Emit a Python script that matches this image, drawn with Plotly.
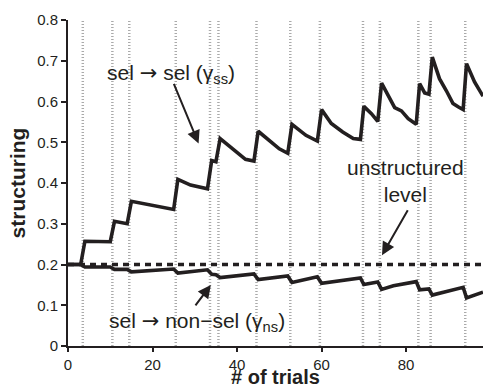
import plotly.graph_objects as go

# gamma_ss (sel -> sel) polyline vertices
gss_trial = [0, 3, 4, 10, 11, 14, 15, 25, 26, 29, 33, 34, 35, 36, 42, 44, 45, 47.4, 50, 52,
             53, 56.3, 59, 60, 62.3, 65, 67.5, 69.2, 70, 71.8, 73.3, 74.2, 75.7, 77.3, 78.9,
             80.5, 82.4, 83.2, 84.4, 85.4, 86.2, 87.9, 89.5, 91.1, 92.3, 93.5, 94.3, 96.2, 98.2]
gss_value = [0.2, 0.2, 0.257, 0.256, 0.306, 0.300, 0.355, 0.335, 0.409, 0.395, 0.386, 0.455,
             0.452, 0.509, 0.458, 0.454, 0.527, 0.507, 0.484, 0.473, 0.544, 0.517, 0.503, 0.58,
             0.546, 0.525, 0.509, 0.507, 0.588, 0.570, 0.551, 0.645, 0.615, 0.585, 0.577, 0.558,
             0.544, 0.644, 0.621, 0.618, 0.709, 0.656, 0.627, 0.595, 0.587, 0.580, 0.693, 0.648,
             0.613]

# gamma_ns (sel -> non-sel) polyline vertices
gns_trial = [0, 3, 4, 10, 11, 14, 15, 25, 26, 33, 34, 35, 36, 44, 45, 52, 53, 59, 60, 69.2,
             70, 73.3, 74.2, 77, 82.4, 83.2, 85.4, 86.2, 93.5, 94.3, 98.2]
gns_value = [0.2, 0.2, 0.194, 0.194, 0.188, 0.188, 0.182, 0.189, 0.179, 0.187, 0.176, 0.175,
             0.168, 0.177, 0.163, 0.172, 0.156, 0.170, 0.154, 0.167, 0.151, 0.157, 0.139,
             0.148, 0.158, 0.138, 0.140, 0.125, 0.144, 0.118, 0.132]

# trials marked with vertical dotted lines
event_trials = [3.5, 10.5, 14.5, 25.5, 33.6, 35.6, 44.6, 52.6, 59.6, 69.8, 73.8, 82.9, 85.8, 94.0]

unstructured_level = 0.2
x_range = [0, 98.2]
y_range = [0, 0.8]
x_ticks = [0, 20, 40, 60, 80]
y_ticks = [0, 0.1, 0.2, 0.3, 0.4, 0.5, 0.6, 0.7, 0.8]
y_ticklabels = ["0", "0.1", "0.2", "0.3", "0.4", "0.5", "0.6", "0.7", "0.8"]

ink = "#231f20"
font = "Liberation Sans, Arial, Helvetica, sans-serif"
arrow_char = '<span style="font-family:DejaVu Sans">\u2192</span>'

vx, vy = [], []
for t in event_trials:
    vx += [t, t, None]
    vy += [y_range[0], y_range[1], None]

fig = go.Figure()
fig.add_trace(go.Scatter(x=vx, y=vy, mode="lines",
                         line=dict(color="#aaaaaa", width=2.5, dash="1px,2px"),
                         hoverinfo="skip", showlegend=False))
fig.add_trace(go.Scatter(x=x_range, y=[unstructured_level] * 2, mode="lines",
                         line=dict(color=ink, width=3.5, dash="6px,5px"), showlegend=False))
fig.add_trace(go.Scatter(x=gss_trial, y=gss_value, mode="lines",
                         line=dict(color=ink, width=3.6), showlegend=False))
fig.add_trace(go.Scatter(x=gns_trial, y=gns_value, mode="lines",
                         line=dict(color=ink, width=3.6), showlegend=False))

ann_font = dict(family=font, size=21, color=ink)
arrow_common = dict(showarrow=True, arrowhead=2, arrowsize=1.3, arrowwidth=2,
                    arrowcolor=ink, axref="x", ayref="y", text="")
fig.add_annotation(x=24.4, y=0.668, text="sel " + arrow_char + " sel (\u03b3<sub>ss</sub>)",
                   showarrow=False, font=ann_font, xanchor="center", yanchor="middle")
fig.add_annotation(x=30.6, y=0.060, text="sel " + arrow_char + " non\u2212sel (\u03b3<sub>ns</sub>)",
                   showarrow=False, font=ann_font, xanchor="center", yanchor="middle")
fig.add_annotation(x=79.9, y=0.404, text="unstructured<br>level",
                   showarrow=False, font=ann_font, xanchor="center", yanchor="middle")
fig.add_annotation(x=30.9, y=0.497, ax=24.9, ay=0.647, **arrow_common)
fig.add_annotation(x=74.3, y=0.223, ax=80.6, ay=0.337, **arrow_common)
fig.add_annotation(x=33.8, y=0.150, ax=29.9, ay=0.096, **arrow_common)

# x-axis title placed at the very bottom of the page
plot_h = 390 - 20 - 44
fig.add_annotation(x=0.5, y=-44 / plot_h, xref="paper", yref="paper",
                   text="<b># of trials</b>", showarrow=False, xanchor="center",
                   yanchor="bottom", yshift=0, font=dict(family=font, size=20, color=ink))

fig.update_layout(
    width=483, height=390,
    margin=dict(l=68, r=0, t=20, b=44),
    paper_bgcolor="white", plot_bgcolor="white",
    font=dict(family=font, size=15, color=ink),
    xaxis=dict(range=x_range, tickvals=x_ticks, ticks="outside", ticklen=4, tickwidth=1.5,
               tickcolor=ink, showline=True, linecolor=ink, linewidth=2, showgrid=False,
               zeroline=False, tickfont=dict(size=15)),
    yaxis=dict(range=y_range, tickvals=y_ticks, ticktext=y_ticklabels, ticks="outside",
               ticklen=5, tickwidth=1.5, tickcolor=ink, showline=True, linecolor=ink,
               linewidth=2, showgrid=False, zeroline=False, tickfont=dict(size=15),
               title=dict(text="<b>structuring</b>", font=dict(size=21), standoff=6)),
)

fig.write_html("out.html")
